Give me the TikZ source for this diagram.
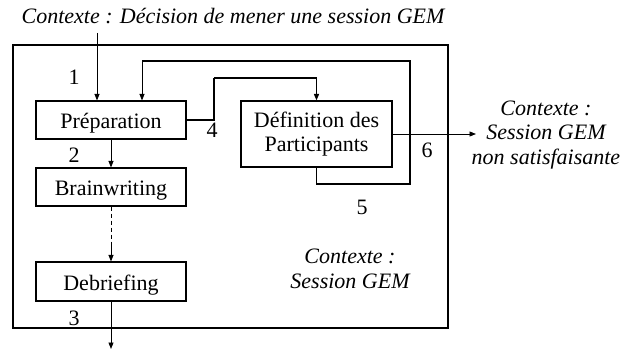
\documentclass[tikz,border=0pt]{standalone}
\usepackage{fontspec}
\setmainfont{Liberation Serif}
\usetikzlibrary{arrows.meta}
\begin{document}
\begin{tikzpicture}[x=1pt,y=-1pt,
  font=\fontsize{22}{24.5}\selectfont,
  stepbox/.style={draw, line width=1.1pt, inner sep=0pt, minimum width=150pt, minimum height=38pt, align=center},
  oneline/.style={text height=18pt, text depth=0pt},
  arr/.style={line width=0.9pt, -{Triangle[length=6.5pt,width=5pt]}},
  loopline/.style={line width=1.6pt},
  ctx/.style={font=\fontsize{22}{24.5}\selectfont\itshape, align=center},
  num/.style={inner sep=0pt}]
\useasboundingbox (0,0) rectangle (632,350);

% outer frame of the session
\draw[line width=1.2pt] (13,45) rectangle (448,328);

% activities
\node[stepbox, oneline] (prep) at (111,120) {Préparation};
\node[stepbox, oneline] (brain) at (111,187) {Brainwriting};
\node[stepbox, oneline, minimum height=39pt] (debrief) at (111,281.5) {Debriefing};
\node[stepbox, minimum width=151pt, minimum height=66pt] (def) at (316.5,134) {Définition des\\Participants};

% context texts
\node[ctx] (ctxin) at (233,16) {Contexte : Décision de mener une session GEM};
\node[ctx] (ctxout) at (546,135) {Contexte :\\Session GEM\\non satisfaisante};
\node[ctx] (ctxses) at (350,269) {Contexte :\\Session GEM};

% free ends
\coordinate (inTop) at (97,33);
\coordinate (bend4) at (214,78);
\coordinate (loopR) at (410,184);
\coordinate (loopT) at (410,61);
\coordinate (dashEnd) at (111,245);
\coordinate (outEnd) at (476,134);
\coordinate (endBottom) at (111,349);

% connectors
\draw[arr] (inTop) -- (inTop |- prep.north);
\draw[arr] (prep.south) -- (brain.north);
\draw[line width=0.9pt, dashed, dash pattern=on 4pt off 3pt] (brain.south) -- (dashEnd);
\draw[arr] (dashEnd) -- (debrief.north);
\draw[arr] (debrief.south) -- (endBottom);
\draw[line width=1.4pt] (prep.east) -| (bend4);
\draw[arr, line width=1.4pt] (bend4) -| (def.north);
\draw[loopline] (def.south) |- (loopR) -- (loopT) -- ([xshift=31pt]prep.north |- loopT);
\draw[arr] ([xshift=31pt]prep.north |- loopT) -- ([xshift=31pt]prep.north);
\draw[arr] (def.east) -- (outEnd);

% flow numbers
\node[num] (n1) at (74,77) {1};
\node[num] (n2) at (74,155) {2};
\node[num] (n3) at (74,318) {3};
\node[num] (n4) at (212,130) {4};
\node[num] (n5) at (362,207) {5};
\node[num] (n6) at (427,150) {6};
\end{tikzpicture}
\end{document}
